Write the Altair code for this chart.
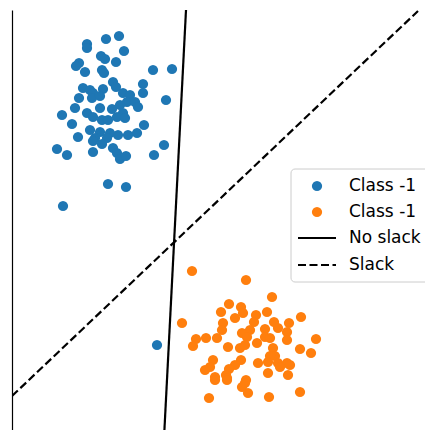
import altair as alt
import pandas as pd

# Class A (blue) points
blue_x = [107, 94, 75, 75, 112, 89, 93, 104, 67, 64, 73, 90, 92, 141, 160, 101, 104, 131, 131, 71,
          78, 81, 91, 67, 80, 88, 111, 118, 154, 115, 108, 123, 126, 63, 88, 100, 50, 75, 81, 111,
          105, 113, 60, 90, 96, 78, 132, 125, 116, 66, 88, 98, 106, 83, 95, 81, 90, 101, 105, 108,
          114, 81, 45, 55, 142, 152, 96, 114, 51, 145]
blue_y = [402, 399, 394, 390, 387, 382, 379, 376, 375, 372, 366, 368, 365, 368, 369, 356, 351, 354, 345, 350,
          348, 345, 349, 340, 340, 342, 345, 343, 338, 336, 333, 336, 331, 330, 330, 329, 323, 325, 321, 325,
          321, 320, 314, 318, 318, 308, 313, 305, 303, 301, 306, 305, 303, 300, 300, 297, 294, 290, 285, 279,
          282, 286, 289, 283, 283, 293, 254, 251, 232, 93]

# Class B (orange) points
orange_x = [180, 234, 260, 217, 209, 229, 231, 223, 244, 255, 289, 170, 211, 210, 242, 262, 277, 253, 266, 238,
            230, 275, 184, 194, 205, 235, 253, 258, 275, 304, 181, 216, 228, 233, 245, 261, 288, 299, 263, 258,
            229, 201, 198, 193, 223, 217, 246, 256, 266, 275, 278, 256, 268, 214, 215, 203, 276, 234, 230, 236,
            197, 257, 288, 233, 203, 215]
orange_y = [167, 158, 141, 134, 126, 131, 125, 120, 123, 126, 121, 115, 115, 108, 116, 116, 115, 109, 110, 108,
            105, 106, 99, 100, 100, 101, 101, 100, 98, 99, 92, 91, 90, 93, 95, 90, 89, 85, 82, 82,
            78, 78, 71, 68, 73, 69, 75, 76, 75, 75, 73, 65, 71, 63, 60, 61, 63, 58, 51, 45,
            40, 41, 46, 55, 58, 58]

# Separating lines
solid_x = [174, 152]
solid_y = [428, 0]
dashed_x = [0, 406]
dashed_y = [42, 427]

legend_labels = ["Class -1", "Class -1", "No slack", "Slack"]

pts = pd.concat([
    pd.DataFrame({"x": blue_x, "y": blue_y, "c": "blue"}),
    pd.DataFrame({"x": orange_x, "y": orange_y, "c": "orange"}),
])

xs = alt.Scale(domain=[0, 413], nice=False, zero=False)
ys = alt.Scale(domain=[8, 428], nice=False, zero=False)

yaxis = alt.Axis(domain=True, ticks=False, labels=False, grid=False, title=None,
                 domainColor="black", domainWidth=1.2)

points = alt.Chart(pts).mark_circle(size=105, opacity=1).encode(
    x=alt.X("x:Q", scale=xs, axis=None),
    y=alt.Y("y:Q", scale=ys, axis=yaxis),
    color=alt.Color("c:N", scale=alt.Scale(domain=["blue", "orange"], range=["#1f77b4", "#ff7f0e"]), legend=None),
)

solid = alt.Chart(pd.DataFrame({"x": solid_x, "y": solid_y})).mark_line(
    color="black", strokeWidth=2.2, clip=True).encode(
    x=alt.X("x:Q", scale=xs, axis=None), y=alt.Y("y:Q", scale=ys, axis=yaxis))

dashed = alt.Chart(pd.DataFrame({"x": dashed_x, "y": dashed_y})).mark_line(
    color="black", strokeWidth=2.2, strokeDash=[8, 3.5], clip=True).encode(
    x=alt.X("x:Q", scale=xs, axis=None), y=alt.Y("y:Q", scale=ys, axis=yaxis))

one = alt.Data(values=[{}])

box = alt.Chart(one).mark_rect(fill="white", fillOpacity=0.8, stroke="#cccccc",
                               strokeWidth=1, cornerRadius=4).encode(
    x=alt.value(279), x2=alt.value(440), y=alt.value(159), y2=alt.value(272))

leg_blue = alt.Chart(one).mark_circle(size=105, opacity=1, color="#1f77b4").encode(
    x=alt.value(305), y=alt.value(176))
leg_orange = alt.Chart(one).mark_circle(size=105, opacity=1, color="#ff7f0e").encode(
    x=alt.value(305), y=alt.value(202))
leg_solid = alt.Chart(one).mark_rule(color="black", strokeWidth=2.2).encode(
    x=alt.value(286), x2=alt.value(324), y=alt.value(228))
leg_dash = alt.Chart(one).mark_rule(color="black", strokeWidth=2.2, strokeDash=[8, 3.5]).encode(
    x=alt.value(286), x2=alt.value(324), y=alt.value(255))

texts = [
    alt.Chart(one).mark_text(text=lbl, align="left", baseline="middle", fontSize=17,
                             font="DejaVu Sans", color="black").encode(
        x=alt.value(337), y=alt.value(yy))
    for lbl, yy in zip(legend_labels, [176, 202, 228, 255])
]

chart = alt.layer(points, solid, dashed, box, leg_blue, leg_orange, leg_solid, leg_dash, *texts).properties(
    width=413, height=420,
    autosize=alt.AutoSizeParams(type="none"),
    padding={"left": 4, "top": 2, "right": 0, "bottom": 0},
).configure_view(stroke=None)

chart.save("out.html", embed_options={"renderer": "svg", "actions": False})
